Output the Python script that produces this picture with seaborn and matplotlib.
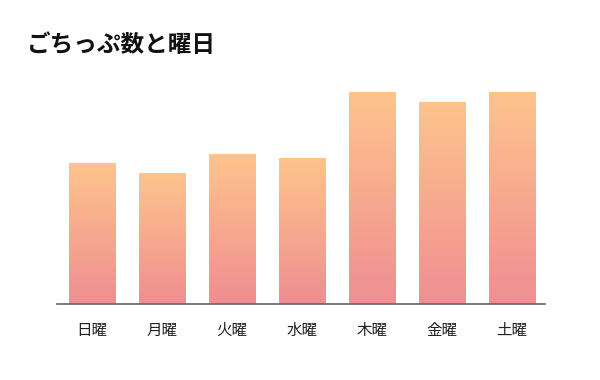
import numpy as np
import pandas as pd
import matplotlib
matplotlib.use("Agg")
import matplotlib.pyplot as plt
import seaborn as sns
from matplotlib.colors import LinearSegmentedColormap

days = ["日曜", "月曜", "火曜", "水曜", "木曜", "金曜", "土曜"]
counts = [141, 131, 150, 146, 212, 202, 212]

sns.set_style("white")
plt.rcParams['font.family'] = ['Noto Sans CJK JP', 'DejaVu Sans']

fig = plt.figure(figsize=(6, 3.8), dpi=100)
ax = fig.add_axes([57/600, 1 - 304/380, 488/600, 220/380])
df = pd.DataFrame({"day": days, "count": counts})
sns.barplot(data=df, x="day", y="count", ax=ax, width=46/70, color="#f8a890")

cmap = LinearSegmentedColormap.from_list("g", ["#f08e92", "#fec48c"])
grad = np.linspace(0, 1, 256).reshape(-1, 1)
for p in ax.patches:
    x0, y0 = p.get_x(), p.get_y()
    w, h = p.get_width(), p.get_height()
    p.set_facecolor("none")
    p.set_edgecolor("none")
    ax.imshow(grad, extent=[x0, x0 + w, y0, y0 + h], origin="lower",
              cmap=cmap, aspect="auto", zorder=2)
ax.set_xlim(-0.5, 6.47)
ax.set_ylim(0, 220)

for s in ["top", "right", "left"]:
    ax.spines[s].set_visible(False)
ax.spines["bottom"].set_color("#666666")
ax.spines["bottom"].set_linewidth(1.2)
ax.set_yticks([])
ax.set_xlabel("")
ax.set_ylabel("")
ax.tick_params(axis="x", length=0, pad=13, labelsize=11.2, labelcolor="#222222")

fig.text(27/600, 1 - 45/380, "ごちっぷ数と曜日", fontsize=17, fontweight="bold",
         va="center", ha="left", color="#111111")

fig.savefig("out.png", dpi=100, facecolor="white")
